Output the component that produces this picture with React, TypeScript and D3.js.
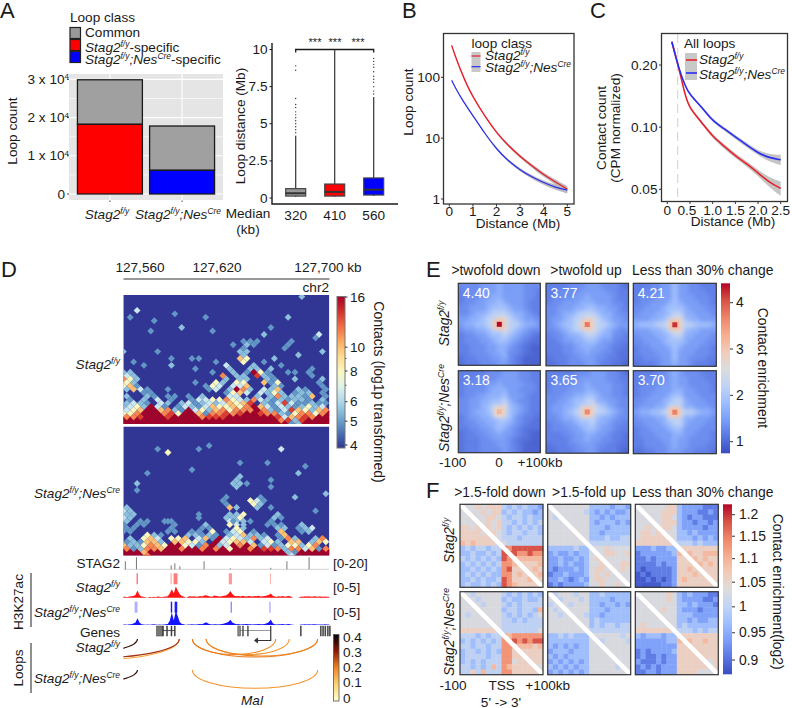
import React from "react";
import * as d3 from "d3";

// ---------- Panel A ----------
const stackCats = ["Stag2 f/y", "Stag2 f/y;Nes Cre"];
const stackSpecific = [18240, 6200];
const stackCommon = [11660, 11600];
const stackColors = ["#ff0000", "#0000ff"];
const stackTicks = [0, 1, 2, 3];
const stackGrid = [0, 5000, 10000, 15000, 20000, 25000, 30000];

const boxCenters = ["320", "410", "560"];
const boxQ1 = [0.13, 0.13, 0.2];
const boxMedian = [0.32, 0.41, 0.56];
const boxQ3 = [0.63, 0.94, 1.35];
const boxWhiskerTop = [4.2, 10, 6.8];
const boxFill = ["#999999", "#ff0000", "#0000ff"];
const boxOutliers = [
  [4.4, 4.6, 4.8, 5.0, 5.2, 5.4, 5.6, 5.8, 6.1, 6.3, 6.7, 8.6, 8.9],
  [],
  [7.0, 7.2, 7.5, 7.8, 8.0, 8.2, 8.5, 8.8, 9.0, 9.2, 9.4],
];
const boxTicks = [0, 2.5, 5, 7.5, 10];
const boxTickLabels = ["0", "2.5", "5", "7.5", "10"];

// ---------- Panel B ----------
const bDist = [0.1, 0.25, 0.5, 0.75, 1, 1.5, 2, 2.5, 3, 3.5, 4, 4.5, 5];
const bRed = [335, 225, 125, 74, 48, 23, 12.3, 7.5, 5, 3.5, 2.5, 1.9, 1.45];
const bBlue = [89, 68, 46, 32.5, 23.5, 12, 6.6, 4.2, 3, 2.3, 1.85, 1.55, 1.4];
const bBandHalf = [0.03, 0.03, 0.03, 0.03, 0.03, 0.03, 0.04, 0.05, 0.06, 0.07, 0.08, 0.1, 0.12];
const bXTicks = [0, 1, 2, 3, 4, 5];
const bYTicks = [1, 10, 100];

// ---------- Panel C ----------
const cDist = [0.1, 0.25, 0.4, 0.5, 0.75, 1, 1.25, 1.5, 1.75, 2, 2.25, 2.5];
const cRed = [0.259, 0.196, 0.14, 0.123, 0.106, 0.09, 0.081, 0.0725, 0.0665, 0.06, 0.054, 0.0505];
const cBlue = [0.259, 0.193, 0.157, 0.143, 0.126, 0.107, 0.0985, 0.0895, 0.082, 0.075, 0.071, 0.0695];
const cBand = [0.002, 0.002, 0.002, 0.002, 0.002, 0.002, 0.002, 0.002, 0.002, 0.002, 0.003, 0.004];
const cXTicks = [0, 0.5, 1, 1.5, 2, 2.5];
const cXLabels = ["0", "0.5", "1.0", "1.5", "2.0", "2.5"];
const cYTicks = [0.05, 0.1, 0.2];
const cYLabels = ["0.05", "0.10", "0.20"];

// ---------- Panel D: contact maps (k = half-cell column, r = half-cell row) ----------
const hicLevels: Record<string, number> = { b: 5, c: 5.6, d: 6.6, e: 8, f: 10, g: 11.5, h: 13.5, i: 16 };
const hicTicks = [4, 5, 6, 8, 10, 16];
const hicMinor = [7, 9];
const hicTopRed = [35,35,35,35,35,35,34,33,32,33,34,35,35,35,35,35,35,35,34,33,34,35,35,35,35,35,35,35,35,35,35,35,35,35,35,35,34,33,32,33,34,35,35,34,35,35,36,37,37,37,36,36,36,35,36,36,36,35,35,34,34];
const hicTopRows: [number, string][] = [
  [0, "52c"], [4, "4d"], [5, "15b"], [6, "2b 24b 48c"], [7, "9b"], [9, "17c 43b"], [10, "8b 26b"],
  [11, "41c 57d"], [12, "56b"], [13, "35b 37b 39b 49b"], [14, "32b 36c 38b 48b"], [15, "47b 35b"],
  [16, "0c 10b 34c 36c 58c"], [17, "35c 51c"], [18, "14b 20b 22b 34f 36e 44c"], [19, "3b 27b 35e 41b"],
  [20, "6b 14c 30d 38c 46b"], [21, "21b 31c 37c 39c 43c 55b"],
  [22, "0c 2c 26b 32c 36b 38i 40e 42b 48b 50b 54b"], [23, "1d 3c 29g 33c 35c 39h 41c 43b 55b"],
  [24, "0g 2e 4c 30c 34c 36c 42c 44b 50c 58c"], [25, "1e 3c 21b 27e 29c 33e 35e 41f 45e 43b 57b"],
  [26, "0e 2f 4b 24b 26e 28d 32d 34d 36f 44c 46b 58b"],
  [27, "1c 3f 5d 7b 13b 25b 27d 31c 33i 35g 37c 41d 45f 43c 51c 53b 59b"],
  [28, "6b 8b 30b 32e 34f 36d 40d 42c 44e 46c 50b 52c 54c 58b"],
  [29, "1c 7c 9b 13b 15b 19b 23c 31d 33d 39c 43c 45g 47c 49c 51c 53b 55f 59b"],
  [30, "2b 6c 10d 14b 20b 22d 24d 26e 28e 30g 32e 34d 36c 38g 40d 42c 44b 46c 48b 50c 52c 54b 58c"],
  [31, "1c 3d 5c 7b 11d 13c 17c 19d 21b 23c 25d 27c 29d 31f 33e 35f 37h 41c 43b 45d 47h 49d 51b 53b 55c 57b 59b"],
  [32, "0c 2d 4e 6c 10d 12b 16b 18d 20c 22b 24d 26f 28e 30e 32f 34e 36g 40f 42d 44b 46d 48c 50b 52c 54e 56c 58d"],
  [33, "1d 3e 5f 11f 13g 15c 17b 21d 23e 25c 27f 29g 31e 33g 35g 37g 41g 43c 45b 47d 49h 51f 53e 55c 57f 59g"],
  [34, "0e 2e 4g 12g 14h 16e 22f 24b 26g 28g 30h 32g 34h 40h 42g 44g 46c 48b 50e 52g 54g 56e 58g"],
  [35, "1g 3g 5h 13h 23g 25h 27h 29h 45h 47d 49f 51g 53h 55g"], [36, "50c 46g 48h 52h"], [37, "49b 51c"],
];
const hicBotRed = [31,30,31,30,31,30,30,30,30,29,30,30,30,29,29,29,29,30,30,30,30,30,31,30,30,29,29,28,27,28,29,30,29,30,30,29,29,29,30,30,31,31,31,30,30,31,31,31,31,31,31,31,31,31,30,30,31,30,30,30,30];
const hicBotRows: [number, string][] = [
  [0, "25b"], [1, "10b 22b 46d"], [2, "13e"], [5, "34b 42b"], [6, "53b"], [7, "20b"], [8, "7b 51c"],
  [9, "34c"], [10, "33c 43b"], [11, "4c 32c 34c 36b"], [12, "33c 43b"], [13, "4b"], [14, "59c"],
  [15, "30b 40b 50c"], [16, "29b 37e 39d 41b"], [17, "30b 38e 40c"], [18, "1c 31f 33c 39c 43b"],
  [19, "0d 2c 56b"], [20, "1c 3c 22b 31c 33c 35e 45c"], [21, "0d 2c 22b 30c 32c 34e 44c 46b"],
  [22, "1c 5b 13b 31d 33c 35c 43b"], [22, "7b 12b 14b 32b 37b"], [23, "0b 4b 6b 15b 24c 31e 33d 35c 42b 44b 46b 52c"],
  [24, "1b 3b 14b 23b 25b 33e 35c 45c 47c 51b 55d 53c"], [25, "0b 2b 13b 15b 20b 22b 26e 30b 32d 34e 38b 46f 52b 54c"],
  [26, "7e 9c 11b 19c 21c 23b 25c 27b 31c 33d 35f 37c 39c 41b 45b 47f"],
  [27, "2c 6e 8f 10d 14e 16e 18f 22d 24f 26b 30d 32e 34d 36c 38g 40c 42d 46b 48g 50c 56c 58g"],
  [28, "1b 3c 5b 7f 9f 11c 15f 17f 19e 21e 23c 29d 31e 33f 35f 37d 41d 43e 45c 49f 51f 55c 57f 59e"],
  [29, "0f 2c 4c 6e 8g 10f 12e 18e 20d 22b 24g 28c 30d 34g 38f 40b 42d 44b 46c 48e 50e 52c 54e 56g"],
  [30, "1g 3b 5c 7g 9g 11f 17g 23g 27g 31e 37g 41h 43h 45g 47c 49g 51g 53d 55f 57b 59g"],
  [31, "48c 50b 6f"], [32, "7g 49d"],
];

// ---------- Panel D: tracks (positions are track bins, 2 px each in the figure) ----------
const trackStag2Pos = [1, 6.5, 23.7, 25.5, 28, 40, 53, 73, 81, 92];
const trackStag2H = [8, 12, 4, 6, 3, 8, 1, 1.5, 8, 12];
const redSignal = [0.3,0.3,0.2,0.4,0.5,0.6,1.0,2.6,1.0,0.4,0.3,0.2,0,0.3,0.2,0.3,0.2,0.4,0.3,0.2,0.3,0.4,0.5,1.5,3.0,1.6,4.0,2.5,1.2,0.6,0.4,0,0.3,0.5,0.4,0.5,0.3,0.4,0.6,0.4,0.8,0.9,0.6,0.4,0.3,0.8,0.6,0.5,0.4,0.6,0.7,0.9,1.4,2.4,1.3,0.7,0.5,0.6,0.4,0.7,0.5,0.4,0.6,0.5,0.4,0.6,0.5,0.7,0.4,0.5,0.6,0.8,1.0,1.5,0.7,0.4,0.3,0.5,0.4,0.6,0.3,0.5,0.6,0.4,0,0,0,0.1,0.4,0.3,0.5,0.4,0.5,0.3,0.4,0.5,0.3,0.4,0.4,0.3,0.4,0.3,0.3];
const blueSignal = [0.2,0.2,0.1,0.3,0.3,0.5,0.9,2.4,0.9,0.3,0.2,0.1,0.2,0.1,0.2,0.3,0.2,0.1,0.2,0.1,0.2,0.3,0.4,1.5,4.5,1.6,5.2,3.0,1.0,0.4,0.3,0,0.2,0.2,0.3,0.2,0.2,0.3,0.4,0.3,0.6,1.0,0.5,0.3,0.2,0.3,0.3,0.2,0.3,0.4,0.5,0.8,1.1,1.9,0.9,0.5,0.3,0.4,0.2,0.3,0.3,0.4,0.3,0.3,0.2,0.3,0.3,0.4,0.3,0.3,0.4,0.6,1.0,2.0,0.6,0.3,0.2,0.3,0.3,0.4,0.2,0.3,0.4,0.2,0.1,0,0,0,0.2,0.2,0.3,0.2,0.3,0.2,0.3,0.3,0.2,0.2,0.2,0.2,0.3,0.2,0.2];
const redBands = [[6.6, 7.1, 0.85], [23.4, 23.9, 0.45], [24.9, 26.8, 0.6], [52.2, 53.8, 0.45], [72.6, 73.0, 0.45]];
const blueBands = [[5.6, 7.0, 0.35], [23.5, 24.2, 1], [25.4, 26.7, 1], [53.2, 53.6, 0.85], [72.2, 73.0, 0.3]];
const geneBlocks = [[16.4, 19.4, "#777"], [19.4, 19.9, "#222"], [21.4, 21.7, "#333"], [23.6, 24, "#333"], [25.2, 25.6, "#333"], [56.7, 58, "#888"], [59, 59.4, "#666"], [61.4, 61.8, "#666"], [87.6, 88, "#444"], [97.5, 97.9, "#333"], [98.7, 99.1, "#333"], [99.8, 100.2, "#333"], [101, 101.4, "#333"], [102, 102.4, "#333"]];
const geneLines = [[16.4, 25.6, "#555"], [56.7, 73.0, "#999"]];
const loopStart = [-43, -52, -52, 34.2, 41, 34.2, 41];
const loopEnd = [7, 27.7, 27.7, 75.5, 82.2, 96.2, 96.2];
const loopDepth = [13.3, 18.6, 20.6, 15.5, 15.5, 18, 17];
const loopScore = [0.36, 0.28, 0.16, 0.2, 0.18, 0.22, 0.2];
const loopNesStart = [-43, 34.2];
const loopNesEnd = [7, 96.2];
const loopNesDepth = [13, 18.3];
const loopNesScore = [0.36, 0.18];
const loopTicks = [0, 0.1, 0.2, 0.3, 0.4];

// ---------- Panel E: pile-ups ----------
const eLevels = [0.8, 0.95, 1.08, 1.2, 1.33, 1.48, 1.68, 1.9, 2.2, 2.6];
const eTitles = [">twofold down", ">twofold up", "Less than 30% change"];
const eScores = ["4.40", "3.77", "4.21", "3.18", "3.65", "3.70"];
const ePeak = [4.4, 3.77, 4.21, 3.18, 3.65, 3.7];
const eHalo = [3.0, 2.95, 3.05, 2.8, 2.95, 3.0];
const eGrids = [
  ["444455565555444","344455565555443","344455665555443","344556676555433","445556777655433","445667888766543","556678899876554","566778999887665","455667889876544","344556778765432","344455677654322","334445566543211","334445566443211","233444556432111","233344455432111"],
  ["333344455544432","334444555554433","344445565555433","344555666555443","445556677665543","445667888766544","455678899876554","456778999887655","445678899876544","344566788766443","334556677655433","333445666554332","333445565544322","233344555443322","223344455433221"],
  ["333445575544333","334445575544433","344455575554443","344555676555443","445556777655544","455566788665554","555667899766555","677788999887776","555667899766555","455566788665554","445556777655544","344555676555443","344455575554443","334445575544433","233345565543332"],
  ["333334445554433","333444455554433","344445565555443","344445666554443","344556667555433","445566778654433","445567889765433","445667889765433","345566788754332","344556677654322","334455676543222","233445565543211","233344555432211","233344455432111","233344445432111"],
  ["333334445554432","334444555554433","344445565555443","344455566555443","444556677655443","445567788665544","455667889876544","455678999887654","445667888766544","344556778665443","344455677655433","333445566554332","333345565544332","233344555443322","223334455433321"],
  ["333344565444333","334444565544433","334445565544443","344455566554443","344555677555444","445556788655544","455566888665554","566778999887665","455566888665554","445556788655544","344555677555444","344455566554443","334445565544443","334444565544433","223344555443332"],
];
const eCbarTicks = [1, 2, 3, 4];

// ---------- Panel F: TSS pile-ups ----------
const fLevels = [0.885, 0.91, 0.94, 0.97, 1.0, 1.03, 1.06, 1.09, 1.13, 1.18];
const fTitles = [">1.5-fold down", ">1.5-fold up", "Less than 30% change"];
const fGrids = [
  ["5556566643434332","5555656634343323","5565566543443433","5556565644343434","6656565643434343","6666566543443443","6666666544434444","7676666454444444","3434434498999999","3343343499988988","4343434398777777","3434343488766667","3343434389666676","3434343388676667","3343433498666766","3433434398766665"],
  ["5555555533332332","5555555432323223","5455555533232333","5555555532333232","5555555533323333","5555565533233333","5555555533343344","5555555544444444","3333343355565555","2322323355566556","2232232356655555","2232322355665566","2122232356656565","1223222356565655","2232123256655555","1212222355655655"],
  ["5555556632222111","5555566632221121","5555566532122111","5556566632212212","5565666532222122","5665665533232222","5666666533323232","6666666544434333","2223223366666666","1222222376766777","1121222266676766","1111212266667676","1011111266766666","0101111266676666","0010101267666666","0000011266666665"],
  ["5545555543434343","5454555534334334","5555455543434444","5555555534434437","5455555543434345","5555555544343444","5555555544444444","6666666544444445","4443434487888888","3434343488989899","4434434488777767","3443434388666666","3444434488666666","3434344488566666","4434347487666665","4464744488666665"],
  ["5455545533433333","5545554533332333","4555455533233232","5455555533323333","5545555433233333","5555555534333333","5555555534344344","5555555544444444","3343433355555545","3333333355455554","3232323355555555","2333233355555555","3232333355555555","2323232355555555","3232323355555455","2323232355555555"],
  ["5555556532322211","5555556532222112","5555555533232221","5555565532221222","5555655533322222","5555555533232233","5655555534333333","6666666544434344","3233323366666666","2222223376766766","2222222266666666","1212222366666666","1211212266666666","2111212266666556","1212122266666656","1122122266665555"],
];
const fCbarTicks = [0.9, 0.95, 1, 1.05, 1.1, 1.15, 1.2];

// ---------- Shared ----------
const FONT = "'Liberation Sans', Arial, sans-serif";
const TXT = "#1a1a1a";
const EF = 13.9;
const coolwarm = ["#3b4cc0", "#5977e3", "#7b9ff9", "#9ebeff", "#c0d4f5", "#dddcdc", "#f2cbb7", "#f7ac8e", "#ee8468", "#d65244", "#b40426"];
const cw = (t: number) => d3.interpolateRgbBasis(coolwarm)(Math.max(0, Math.min(1, t)));

const Gene = ({ nes, size = 13.6, tail }: { nes?: boolean; size?: number; tail?: string }) => {
  const s = size * 0.62;
  const up = -size * 0.36;
  return (
    <>
      <tspan fontStyle="italic">Stag2</tspan>
      <tspan fontStyle="italic" fontSize={s} dy={up}>f/y</tspan>
      {nes ? (
        <>
          <tspan fontStyle="italic" dy={-up}>;Nes</tspan>
          <tspan fontStyle="italic" fontSize={s} dy={up}>Cre</tspan>
          {tail ? <tspan dy={-up}>{tail}</tspan> : null}
        </>
      ) : tail ? (
        <tspan dy={-up}>{tail}</tspan>
      ) : null}
    </>
  );
};

const T = (p: any) => <text fontFamily={FONT} fontSize={13.6} fill={TXT} {...p} />;

function PanelA() {
  const y = d3.scaleLinear().domain([0, 30000]).range([194, 79.4]);
  const x = d3.scaleBand().domain(stackCats).range([76, 216]).paddingInner(0.1).paddingOuter(0.02);
  const yb = d3.scaleLinear().domain([0, 10]).range([198, 49.5]);
  const xb = d3.scalePoint().domain(boxCenters).range([295.7, 373.7]);
  return (
    <g>
      <T x={0} y={18} fontSize={22}>A</T>
      <T x={70} y={22}>Loop class</T>
      {["#999999", "#ff0000", "#0000ff"].map((c, i) => (
        <rect key={c} x={70} y={27.5 + i * 12} width={10.5} height={11} fill={c} stroke="#222" strokeWidth={1.2} />
      ))}
      <T x={85} y={36.5}>Common</T>
      <T x={85} y={52}><Gene tail="-specific" /></T>
      <T x={85} y={64}><Gene nes tail="-specific" /></T>

      <rect x={69} y={74} width={154} height={126} fill="#e5e5e5" />
      {stackGrid.map((v) => (
        <line key={v} x1={69} x2={223} y1={y(v)} y2={y(v)} stroke="#fff" strokeWidth={v % 10000 === 0 ? 1.1 : 0.6} />
      ))}
      {stackCats.map((c) => {
        const cx = x(c)! + x.bandwidth() / 2;
        return <line key={c} x1={cx} x2={cx} y1={74} y2={200} stroke="#fff" strokeWidth={1.1} />;
      })}
      {stackCats.map((c, i) => (
        <g key={c} stroke="#1a1a1a" strokeWidth={1.3}>
          <rect x={x(c)} y={y(stackSpecific[i] + stackCommon[i])} width={x.bandwidth()} height={y(0) - y(stackCommon[i])} fill="#a0a0a0" />
          <rect x={x(c)} y={y(stackSpecific[i])} width={x.bandwidth()} height={y(0) - y(stackSpecific[i])} fill={stackColors[i]} />
          <line x1={x(c)! + x.bandwidth() / 2} x2={x(c)! + x.bandwidth() / 2} y1={200.5} y2={202} strokeWidth={1} stroke="#444" />
        </g>
      ))}
      {stackTicks.map((t) => (
        <g key={t}>
          <line x1={67} x2={69} y1={y(t * 10000)} y2={y(t * 10000)} stroke="#444" />
          {t === 0 ? (
            <T x={65} y={y(0) + 4.5} textAnchor="end">0</T>
          ) : (
            <T x={69} y={y(t * 10000) + 4.5} textAnchor="end">
              {t} x 10<tspan fontSize={8} dy={-4.5}>4</tspan>
            </T>
          )}
        </g>
      ))}
      <T transform="translate(17,131) rotate(-90)" textAnchor="middle">Loop count</T>
      <T x={107} y={218.5} textAnchor="middle"><Gene /></T>
      <T x={178} y={218.5} textAnchor="middle"><Gene nes /></T>

      <path d="M272,43V204H398" fill="none" stroke="#1a1a1a" strokeWidth={1.4} />
      {boxTicks.map((t, i) => (
        <g key={t}>
          <line x1={269.5} x2={272} y1={yb(t)} y2={yb(t)} stroke="#1a1a1a" />
          <T x={267.5} y={yb(t) + 4.5} textAnchor="end">{boxTickLabels[i]}</T>
        </g>
      ))}
      <T transform="translate(245,126) rotate(-90)" textAnchor="middle">Loop distance (Mb)</T>
      <path d={`M${xb("320")},${yb(10) + 3}V${yb(10)}H${xb("560")}V${yb(10) + 3}`} fill="none" stroke="#1a1a1a" strokeWidth={1.3} />
      {[315, 335, 358].map((sx) => (
        <T key={sx} x={sx} y={46} fontSize={11} textAnchor="middle">***</T>
      ))}
      {boxCenters.map((c, i) => {
        const cx = xb(c)!;
        return (
          <g key={c}>
            <line x1={cx} x2={cx} y1={yb(boxWhiskerTop[i])} y2={yb(boxQ1[i]) + 1} stroke="#333" strokeWidth={1.2} />
            {boxOutliers[i].map((o) => <circle key={o} cx={cx} cy={yb(o)} r={0.7} fill="#333" />)}
            <rect x={cx - 10} y={yb(boxQ3[i])} width={20} height={yb(boxQ1[i]) - yb(boxQ3[i])} fill={boxFill[i]} stroke="#444" strokeWidth={1.2} />
            <line x1={cx - 10} x2={cx + 10} y1={yb(boxMedian[i])} y2={yb(boxMedian[i])} stroke="#333" strokeWidth={2} />
            <T x={cx} y={220} textAnchor="middle">{c}</T>
          </g>
        );
      })}
      <T x={248} y={218} textAnchor="middle">Median</T>
      <T x={248} y={234} textAnchor="middle">(kb)</T>
    </g>
  );
}

function PanelB() {
  const x = d3.scaleLinear().domain([0, 5]).range([449.3, 567.3]);
  const y = d3.scaleLog().domain([1, 100]).range([199, 77.3]);
  const line = d3.line<number>().x((_, i) => x(bDist[i])).y((d) => y(d)).curve(d3.curveBasis);
  const band = (vals: number[]) =>
    d3.area<number>().x((_, i) => x(bDist[i])).y0((d, i) => y(d * (1 - bBandHalf[i]))).y1((d, i) => y(d * (1 + bBandHalf[i]))).curve(d3.curveBasis)(vals)!;
  return (
    <g>
      <T x={402} y={18} fontSize={22}>B</T>
      <path d={band(bRed)} fill="#bbb" />
      <path d={band(bBlue)} fill="#bbb" />
      <path d={line(bRed)!} fill="none" stroke="#e8212b" strokeWidth={1.4} />
      <path d={line(bBlue)!} fill="none" stroke="#2a2df0" strokeWidth={1.2} />
      <rect x={443.5} y={33.5} width={130.5} height={170.5} fill="none" stroke="#333" strokeWidth={1.3} />
      {bXTicks.map((t) => (
        <g key={t}>
          <line x1={x(t)} x2={x(t)} y1={204} y2={206.5} stroke="#333" />
          <T x={x(t)} y={216} textAnchor="middle">{t}</T>
        </g>
      ))}
      {bYTicks.map((t) => (
        <g key={t}>
          <line x1={441} x2={443.5} y1={y(t)} y2={y(t)} stroke="#333" />
          <T x={440} y={y(t) + 4.5} textAnchor="end">{t}</T>
        </g>
      ))}
      <T transform="translate(413,102) rotate(-90)" textAnchor="middle">Loop count</T>
      <T x={518} y={228} textAnchor="middle">Distance (Mb)</T>
      <T x={471.5} y={48}>loop class</T>
      <rect x={471.5} y={52} width={9} height={20} fill="#c8c8c8" />
      <line x1={471.5} x2={480.5} y1={56} y2={56} stroke="#e8212b" strokeWidth={1.2} />
      <line x1={471.5} x2={480.5} y1={66.7} y2={66.7} stroke="#2a2df0" strokeWidth={1.2} />
      <T x={485} y={60}><Gene /></T>
      <T x={485} y={72}><Gene nes /></T>
    </g>
  );
}

function PanelC() {
  const x = d3.scaleLinear().domain([0, 2.5]).range([667.3, 780.7]);
  const y = d3.scaleLog().base(2).domain([0.05, 0.2]).range([189.3, 65]);
  const line = d3.line<number>().x((_, i) => x(cDist[i])).y((d) => y(d)).curve(d3.curveBasis);
  const band = (vals: number[]) =>
    d3.area<number>().x((_, i) => x(cDist[i])).y0((d, i) => y(d - cBand[i])).y1((d, i) => y(d + cBand[i])).curve(d3.curveBasis)(vals)!;
  return (
    <g>
      <T x={590} y={18} fontSize={22}>C</T>
      <line x1={x(0.23)} x2={x(0.23)} y1={34} y2={201} stroke="#cfcfcf" strokeWidth={1} strokeDasharray="9 5" />
      <path d={band(cRed)} fill="#c4c4c4" />
      <path d={band(cBlue)} fill="#c4c4c4" />
      <path d={line(cRed)!} fill="none" stroke="#e8212b" strokeWidth={1.6} />
      <path d={line(cBlue)!} fill="none" stroke="#2a2df0" strokeWidth={1.6} />
      <rect x={661.5} y={33.5} width={126} height={168} fill="none" stroke="#333" strokeWidth={1.3} />
      {cXTicks.map((t, i) => (
        <g key={t}>
          <line x1={x(t)} x2={x(t)} y1={201.5} y2={204} stroke="#333" />
          <T x={i === 1 ? x(t) - 3 : x(t)} y={215} textAnchor="middle">{cXLabels[i]}</T>
        </g>
      ))}
      {cYTicks.map((t, i) => (
        <g key={t}>
          <line x1={659} x2={661.5} y1={y(t)} y2={y(t)} stroke="#333" />
          <T x={657.5} y={y(t) + 4.5} textAnchor="end">{cYLabels[i]}</T>
        </g>
      ))}
      <T transform="translate(606,128) rotate(-90)" textAnchor="middle">Contact count</T>
      <T transform="translate(620,128) rotate(-90)" textAnchor="middle">(CPM normalized)</T>
      <T x={733} y={226} textAnchor="middle">Distance (Mb)</T>
      <T x={684} y={48}>All loops</T>
      <rect x={685} y={53} width={12} height={27} fill="#c8c8c8" />
      <line x1={686} x2={697} y1={60} y2={60} stroke="#e8212b" strokeWidth={1.6} />
      <line x1={686} x2={697} y1={73} y2={73} stroke="#2a2df0" strokeWidth={1.6} />
      <T x={699} y={64}><Gene /></T>
      <T x={699} y={79}><Gene nes /></T>
    </g>
  );
}

const hicT = d3.scaleLog().domain([4, 16]).range([0, 1]);
const hicColor = (v: number) => d3.interpolateRdYlBu(1 - hicT(v));

function HicMap({ id, top, height, y0, redTop, rows, parity, nRows }: any) {
  const kx = d3.scaleLinear().domain([0, 60]).range([123.33, 329.3]);
  const ry = d3.scaleLinear().domain([0, 1]).range([y0, y0 + 3.433]);
  const half = 3.45;
  const diamond = (k: number, r: number) => {
    const cx = kx(k), cy = ry(r);
    return `${cx},${cy - half} ${cx + half},${cy} ${cx},${cy + half} ${cx - half},${cy}`;
  };
  const base: { k: number; r: number }[] = [];
  redTop.forEach((t: number, k: number) => {
    for (let r = t; r <= nRows; r++) if ((k + r) % 2 === parity) base.push({ k, r });
  });
  const cells: { k: number; r: number; v: number }[] = [];
  rows.forEach(([r, s]: [number, string]) => {
    s.split(" ").forEach((c) => {
      cells.push({ k: parseInt(c, 10), r, v: hicLevels[c[c.length - 1]] });
    });
  });
  return (
    <g>
      <clipPath id={id}><rect x={123.33} y={top} width={206} height={height} /></clipPath>
      <g clipPath={`url(#${id})`}>
        <rect x={123.33} y={top} width={206} height={height} fill={hicColor(4)} />
        {base.map((c) => <polygon key={`${c.k}-${c.r}`} points={diamond(c.k, c.r)} fill={hicColor(16)} />)}
        {cells.map((c, i) => <polygon key={i} points={diamond(c.k, c.r)} fill={hicColor(c.v)} />)}
      </g>
    </g>
  );
}

function PanelD() {
  const tx = d3.scaleLinear().domain([0, 102]).range([123.33, 329.3]);
  const sigY = d3.scaleLinear().domain([0, 5]).range([0, 14]);
  const barY = d3.scaleLog().domain([4, 16]).range([445, 297]);
  const loopY = d3.scaleLinear().domain([0, 0.4]).range([698, 637]);
  const loopC = d3.scaleLinear<string>().domain([0, 0.08, 0.16, 0.22, 0.3, 0.4]).range(["#ffffd0", "#fde58a", "#f9a030", "#e8781e", "#8a1a0a", "#000000"]);
  const area = (base: number) =>
    d3.area<number>().x((_, i) => tx(i)).y0(base).y1((d) => base - sigY(d)).curve(d3.curveLinear);
  const arc = (a: number, b: number, depth: number, y: number, s: number) => (
    <path key={`${a}-${b}-${depth}-${y}`} d={`M${tx(a)},${y}A${(tx(b) - tx(a)) / 2},${depth} 0 0 0 ${tx(b)},${y}`} fill="none" stroke={loopC(s)} strokeWidth={1.1} />
  );
  const barStops = d3.range(0, 11).map((i) => i / 10);
  const loopStops = [0, 0.1, 0.2, 0.3, 0.4];
  return (
    <g>
      <defs>
        <linearGradient id="hicBar" x1="0" y1="1" x2="0" y2="0">
          {barStops.map((t) => <stop key={t} offset={t} stopColor={d3.interpolateRdYlBu(1 - t)} />)}
        </linearGradient>
        <linearGradient id="loopBar" x1="0" y1="1" x2="0" y2="0">
          {loopStops.map((t) => <stop key={t} offset={t / 0.4} stopColor={loopC(t)} />)}
        </linearGradient>
      </defs>
      <T x={1} y={277} fontSize={22}>D</T>
      <T x={140} y={271.5} textAnchor="middle">127,560</T>
      <T x={217} y={271.5} textAnchor="middle">127,620</T>
      <T x={328} y={271.5} textAnchor="middle">127,700 kb</T>
      <line x1={123.5} x2={329.5} y1={279} y2={279} stroke="#333" strokeWidth={1.2} />
      <T x={329} y={291.5} textAnchor="end">chr2</T>

      <HicMap id="hicTop" top={295} height={129} y0={296.67} redTop={hicTopRed} rows={hicTopRows} parity={0} nRows={38} />
      <HicMap id="hicBot" top={426.5} height={129} y0={445.67} redTop={hicBotRed} rows={hicBotRows} parity={1} nRows={33} />

      <T x={120} y={369} textAnchor="end"><Gene /></T>
      <T x={120} y={498} textAnchor="end"><Gene nes /></T>

      <rect x={337} y={296.5} width={8} height={151.5} fill="url(#hicBar)" stroke="#777" strokeWidth={1} />
      {hicTicks.map((t) => (
        <g key={t}>
          <line x1={345} x2={347.5} y1={barY(t)} y2={barY(t)} stroke="#333" />
          <T x={350} y={barY(t) + 4.5}>{t}</T>
        </g>
      ))}
      {hicMinor.map((t) => <line key={t} x1={345} x2={346.5} y1={barY(t)} y2={barY(t)} stroke="#555" />)}
      <T transform="translate(374,392) rotate(90)" textAnchor="middle" fontSize={14}>Contacts (log1p transformed)</T>

      <T x={120} y={568} textAnchor="end">STAG2</T>
      <T x={333} y={568}>[0-20]</T>
      <line x1={123.5} x2={329} y1={569.3} y2={569.3} stroke="#c8c8c8" strokeWidth={0.8} />
      {trackStag2Pos.map((p, i) => (
        <line key={p} x1={tx(p)} x2={tx(p)} y1={569.3} y2={569.3 - trackStag2H[i]} stroke="#555" strokeWidth={0.8} />
      ))}
      <T x={120} y={592} textAnchor="end"><Gene /></T>
      <T x={333} y={592}>[0-5]</T>
      <T x={120} y={617} textAnchor="end"><Gene nes /></T>
      <T x={333} y={617}>[0-5]</T>
      {redBands.map(([a, b, o]) => <rect key={a} x={tx(a)} y={573.3} width={tx(b) - tx(a)} height={11} fill="#ff2020" opacity={o} />)}
      <path d={area(597.7)(redSignal)!} fill="#ff1414" />
      {blueBands.map(([a, b, o]) => <rect key={a} x={tx(a)} y={601.7} width={tx(b) - tx(a)} height={11} fill="#1a1aff" opacity={o} />)}
      <path d={area(625)(blueSignal)!} fill="#1414ff" />

      <T x={120} y={637} textAnchor="end">Genes</T>
      {geneLines.map(([a, b, c]: any) => <line key={a} x1={tx(a)} x2={tx(b)} y1={630.5} y2={630.5} stroke={c} strokeWidth={1.1} />)}
      {geneBlocks.map(([a, b, c]: any) => (
        <rect key={a} x={tx(a)} y={626} width={Math.max(1, tx(b) - tx(a))} height={10} fill={c} stroke="#444" strokeWidth={0.5} />
      ))}
      <path d={`M${tx(73)},626V640.5H${tx(65.5)}`} fill="none" stroke="#333" strokeWidth={1.2} />
      <path d={`M${tx(65)},640.5l3,-2.3v4.6z`} fill="#333" stroke="#333" />

      <T transform="translate(23,602) rotate(-90)" textAnchor="middle">H3K27ac</T>
      <line x1={31} x2={31} y1={573} y2={627} stroke="#333" strokeWidth={1.1} />
      <T transform="translate(23,668) rotate(-90)" textAnchor="middle">Loops</T>
      <line x1={31} x2={31} y1={643} y2={693} stroke="#333" strokeWidth={1.1} />
      <T x={120} y={652} textAnchor="end"><Gene /></T>
      <T x={120} y={683} textAnchor="end"><Gene nes /></T>

      <clipPath id="loopClip"><rect x={123.33} y={630} width={206} height={70} /></clipPath>
      <g clipPath="url(#loopClip)">
        {[2, 1, 0, 3, 4, 5, 6].map((i) => arc(loopStart[i], loopEnd[i], loopDepth[i], 639, loopScore[i]))}
        {loopNesStart.map((a, i) => arc(a, loopNesEnd[i], loopNesDepth[i], 670, loopNesScore[i]))}
      </g>
      <T x={252} y={705} textAnchor="middle" fontStyle="italic">Mal</T>

      <rect x={333.5} y={634.5} width={5.5} height={66.5} fill="url(#loopBar)" stroke="#555" strokeWidth={0.8} />
      {loopTicks.map((t) => <T key={t} x={343} y={loopY(t) + 4.5}>{t}</T>)}
    </g>
  );
}

const eColX = [458.3, 546, 633.3];
const eRowY = [283.3, 370.7];
const eSize = [82, 82.5, 83];
const eT = d3.scaleLinear().domain([0.756, 4.425]).range([0, 1]);

function PanelE() {
  const cbarY = d3.scaleLinear().domain([1, 4]).range([441.7, 302.7]);
  return (
    <g>
      <defs>
        <filter id="eBlur" x="-20%" y="-20%" width="140%" height="140%"><feGaussianBlur stdDeviation={2.2} /></filter>
        <filter id="eBlur2" x="-60%" y="-60%" width="220%" height="220%"><feGaussianBlur stdDeviation={1.6} /></filter>
        <linearGradient id="cwBar" x1="0" y1="1" x2="0" y2="0">
          {coolwarm.map((c, i) => <stop key={i} offset={i / 10} stopColor={c} />)}
        </linearGradient>
      </defs>
      <T x={426} y={277} fontSize={22}>E</T>
      {eTitles.map((t, i) => (
        <T key={t} x={[496, 586, 702.7][i]} y={275} textAnchor="middle" fontSize={EF}>{t}</T>
      ))}
      {eGrids.map((grid, n) => {
        const col = n % 3, row = Math.floor(n / 3);
        const px = eColX[col], py = eRowY[row], sz = eSize[col];
        const band = d3.scaleBand<number>().domain(d3.range(15)).range([0, sz]);
        const cx = px + sz / 2, cy = py + sz / 2;
        return (
          <g key={n}>
            <clipPath id={`e${n}`}><rect x={px} y={py} width={sz} height={sz} /></clipPath>
            <g clipPath={`url(#e${n})`}>
              <g filter="url(#eBlur)">
                {grid.map((r, ri) => r.split("").map((ch, ci) => {
                  const bx = band(ci)!, by = band(ri)!, w = band.bandwidth();
                  const x0 = ci === 0 ? -10 : bx, y0 = ri === 0 ? -10 : by;
                  const x1 = ci === 14 ? sz + 10 : bx + w + 0.5, y1 = ri === 14 ? sz + 10 : by + w + 0.5;
                  return <rect key={`${ri}-${ci}`} x={px + x0} y={py + y0} width={x1 - x0} height={y1 - y0} fill={cw(eT(eLevels[+ch]))} />;
                }))}
              </g>
              <rect x={cx - 5.5} y={cy - 5.5} width={11} height={11} fill={cw(eT(eHalo[n]))} filter="url(#eBlur2)" />
              <rect x={cx - 2.5} y={cy - 2.5} width={5} height={5} fill={cw(eT(ePeak[n]))} />
            </g>
            <rect x={px} y={py} width={sz} height={sz} fill="none" stroke="#333" strokeWidth={1.2} />
            <T x={px + 4.5} y={py + 14.5} fill="#ffffff" fontSize={EF}>{eScores[n]}</T>
          </g>
        );
      })}
      <T transform="translate(449,323.5) rotate(-90)" textAnchor="middle" fontSize={EF}><Gene size={EF} /></T>
      <T transform="translate(449,408) rotate(-90)" textAnchor="middle" fontSize={EF}><Gene nes size={EF} /></T>
      <T x={452.7} y={467} textAnchor="middle">-100</T>
      <T x={499} y={467} textAnchor="middle">0</T>
      <T x={540} y={467} textAnchor="middle">+100kb</T>
      <rect x={721} y={283.3} width={9} height={170} fill="url(#cwBar)" />
      {eCbarTicks.map((t) => (
        <g key={t}>
          <line x1={730} x2={733} y1={cbarY(t)} y2={cbarY(t)} stroke="#333" />
          <T x={736} y={cbarY(t) + 4.5} fontSize={EF}>{t}</T>
        </g>
      ))}
      <T transform="translate(758,368) rotate(90)" textAnchor="middle" fontSize={EF}>Contact enrichment</T>
    </g>
  );
}

const fColX = [460, 547.7, 635.3];
const fRowY = [504.3, 591.7];
const fSize = 83;
const fT = d3.scaleLog().domain([0.875, 1.225]).range([0, 1]);

function PanelF() {
  const cbarY = d3.scaleLog().domain([0.875, 1.225]).range([674.3, 504.3]);
  return (
    <g>
      <T x={426} y={498} fontSize={22}>F</T>
      {fTitles.map((t, i) => (
        <T key={t} x={[500, 589, 702.7][i]} y={497} textAnchor="middle" fontSize={EF}>{t}</T>
      ))}
      {fGrids.map((grid, n) => {
        const col = n % 3, row = Math.floor(n / 3);
        const px = fColX[col], py = fRowY[row];
        const band = d3.scaleBand<number>().domain(d3.range(16)).range([0, fSize]);
        return (
          <g key={n}>
            {grid.map((r, ri) => r.split("").map((ch, ci) => (
              <rect key={`${ri}-${ci}`} x={px + band(ci)!} y={py + band(ri)!} width={band.bandwidth() + 0.4} height={band.bandwidth() + 0.4} fill={cw(fT(fLevels[+ch]))} />
            )))}
            <line x1={px} y1={py} x2={px + fSize} y2={py + fSize} stroke="#fff" strokeWidth={4.5} />
            <rect x={px} y={py} width={fSize} height={fSize} fill="none" stroke="#333" strokeWidth={1.2} />
          </g>
        );
      })}
      <T transform="translate(454,540.5) rotate(-90)" textAnchor="middle" fontSize={EF}><Gene size={EF} /></T>
      <T transform="translate(454,632) rotate(-90)" textAnchor="middle" fontSize={EF}><Gene nes size={EF} /></T>
      <T x={453} y={690} textAnchor="middle">-100</T>
      <T x={501.7} y={690} textAnchor="middle">TSS</T>
      <T x={547.7} y={690} textAnchor="middle">+100kb</T>
      <T x={501} y={706.5} textAnchor="middle">5' -&gt; 3'</T>
      <rect x={723} y={504.3} width={9} height={170} fill="url(#cwBar)" />
      {fCbarTicks.map((t) => (
        <g key={t}>
          <line x1={732} x2={735} y1={cbarY(t)} y2={cbarY(t)} stroke="#333" />
          <T x={739} y={cbarY(t) + 4.5} fontSize={EF}>{t}</T>
        </g>
      ))}
      <T transform="translate(773,591.7) rotate(90)" textAnchor="middle" fontSize={EF}>Contact enrichment(log2)</T>
    </g>
  );
}

export default function App() {
  return (
    <svg width={792} height={708} viewBox="0 0 792 708" style={{ position: "absolute", left: 0, top: 0, display: "block", background: "#fff" }}>
      <PanelA />
      <PanelB />
      <PanelC />
      <PanelD />
      <PanelE />
      <PanelF />
    </svg>
  );
}
